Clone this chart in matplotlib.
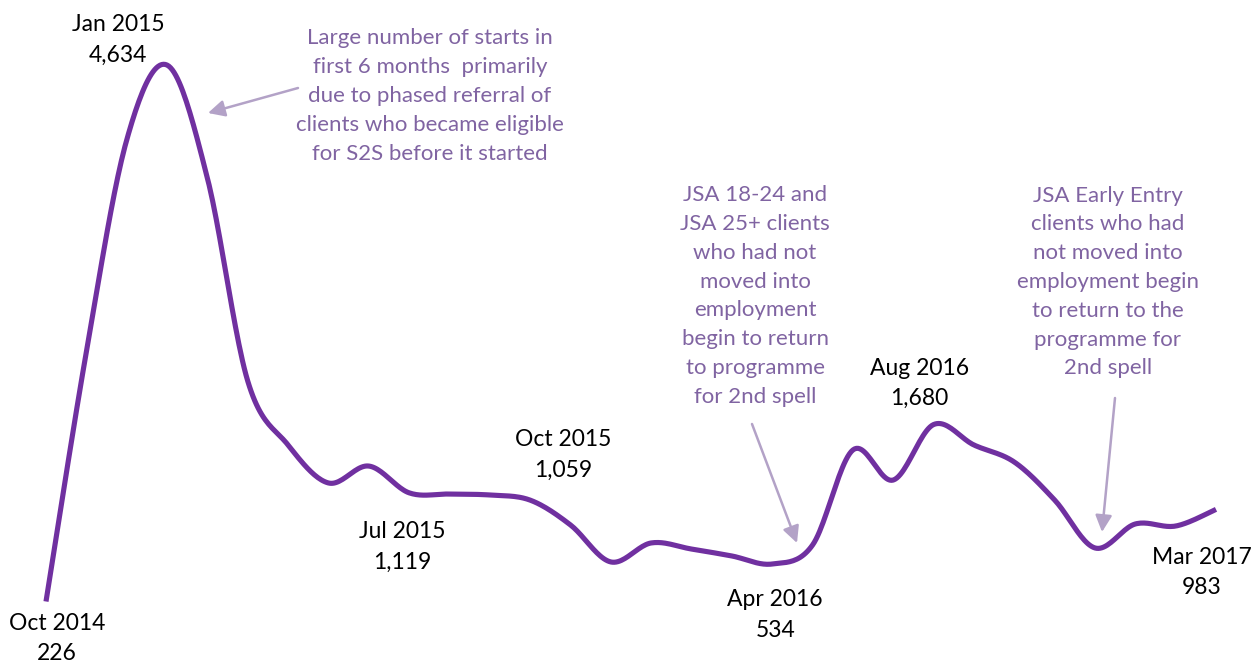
import numpy as np
import matplotlib.pyplot as plt

# monthly S2S starts, Oct 2014 - Mar 2017
months = ["Oct 2014", "Nov 2014", "Dec 2014", "Jan 2015", "Feb 2015", "Mar 2015",
          "Apr 2015", "May 2015", "Jun 2015", "Jul 2015", "Aug 2015", "Sep 2015",
          "Oct 2015", "Nov 2015", "Dec 2015", "Jan 2016", "Feb 2016", "Mar 2016",
          "Apr 2016", "May 2016", "Jun 2016", "Jul 2016", "Aug 2016", "Sep 2016",
          "Oct 2016", "Nov 2016", "Dec 2016", "Jan 2017", "Feb 2017", "Mar 2017"]
starts = [226, 2276, 4018, 4634, 3706, 2038, 1512, 1200, 1339, 1119, 1109, 1101,
          1059, 855, 551, 707, 657, 600, 534, 690, 1471, 1224, 1680, 1512,
          1372, 1060, 666, 863, 846, 983]

# which points get a label, and where the label sits (offset in pixels)
labelled = ["Oct 2014", "Jan 2015", "Jul 2015", "Oct 2015", "Apr 2016", "Aug 2016", "Mar 2017"]
label_off = [(11, -37), (-49, 25), (-7, -54), (33, 45), (3, -51), (-14, 41), (-14, -63)]

notes = [
    "Large number of starts in\nfirst 6 months  primarily\ndue to phased referral of\nclients who became eligible\nfor S2S before it started",
    "JSA 18-24 and\nJSA 25+ clients\nwho had not\nmoved into\nemployment\nbegin to return\nto programme\nfor 2nd spell",
    "JSA Early Entry\nclients who had\nnot moved into\nemployment begin\nto return to the\nprogramme for\n2nd spell",
]
note_pos = [(430, 96), (755, 296), (1108, 282)]          # centre, pixels from top-left
note_arrows = [((298, 88), (208, 113)), ((752, 424), (797, 543)), ((1115, 398), (1102, 532))]

W, H = 1259, 665
LINE = "#7030a0"
NOTE = "#8064a2"
ARROW = "#b3a2c7"
FONT = "Lato"


def smooth(x, y, n=24):
    # excel-ish smoothed line: cubic bezier with catmull-rom control points
    p = np.column_stack([x, y]).astype(float)
    p = np.vstack([p[0], p, p[-1]])
    out = []
    t = np.linspace(0, 1, n)[:, None]
    for i in range(1, len(p) - 2):
        p0, p3 = p[i], p[i + 1]
        c1 = p0 + (p[i + 1] - p[i - 1]) / 6
        c2 = p3 - (p[i + 2] - p[i]) / 6
        seg = (1 - t)**3 * p0 + 3 * (1 - t)**2 * t * c1 + 3 * (1 - t) * t**2 * c2 + t**3 * p3
        out.append(seg if i == 1 else seg[1:])
    out = np.vstack(out)
    return out[:, 0], out[:, 1]


fig = plt.figure(figsize=(W / 100, H / 100), dpi=100)
ax = fig.add_axes([0, 0, 1, 1])
ax.axis("off")

x = np.arange(len(months))
sx, sy = smooth(x, starts)
ax.plot(sx, sy, color=LINE, lw=3.7, solid_capstyle="butt")

# 46px -> first month, 1216px -> last month; 0 starts at 629px, 8.217 starts per px
px = (1216 - 46) / (len(months) - 1)
ax.set_xlim(-46 / px, len(months) - 1 + (W - 1216) / px)
ax.set_ylim(-(H - 629) * 8.217, 629 * 8.217)

for m, (dx, dy) in zip(labelled, label_off):
    i = months.index(m)
    ax.annotate(f"{m}\n{starts[i]:,}", (i, starts[i]), xytext=(dx * 0.72, dy * 0.72),
                textcoords="offset points", ha="center", va="center",
                fontsize=16.5, family=FONT, color="black", linespacing=1.55)

for txt, (cx, cy) in zip(notes, note_pos):
    fig.text(cx / W, 1 - cy / H, txt, ha="center", va="center", fontsize=16,
             family=FONT, color=NOTE, linespacing=1.55)

for (tx, ty), (hx, hy) in note_arrows:
    ax.annotate("", xy=(hx / W, 1 - hy / H), xytext=(tx / W, 1 - ty / H),
                xycoords="axes fraction", textcoords="axes fraction",
                arrowprops=dict(arrowstyle="-|>,head_length=1.0,head_width=0.5",
                                color=ARROW, lw=1.8, shrinkA=0, shrinkB=0))

fig.savefig("out.png", dpi=100)
